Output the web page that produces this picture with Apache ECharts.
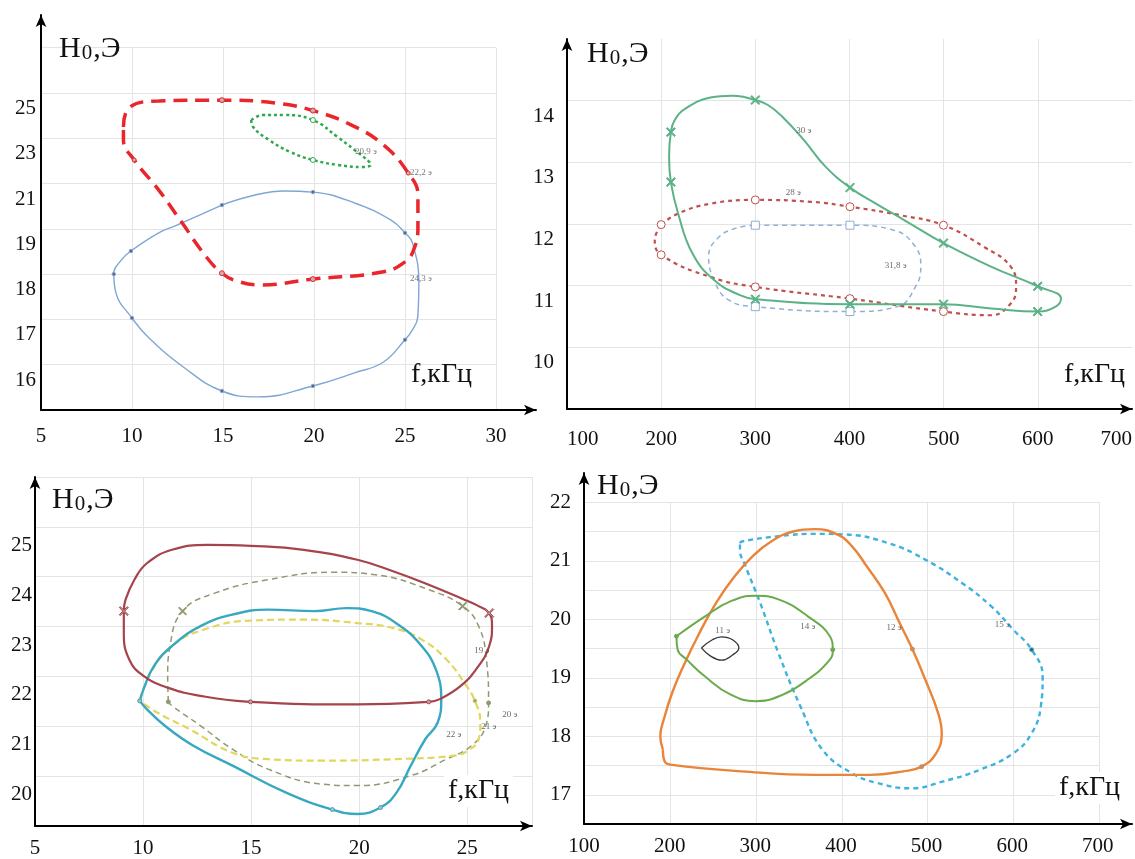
<!DOCTYPE html>
<html><head><meta charset="utf-8">
<script src="https://cdn.jsdelivr.net/npm/echarts@6.0.0/dist/echarts.min.js"></script>
<style>html,body{margin:0;padding:0;background:#fff}#c{width:1135px;height:859px}</style>
</head><body><div id="c"></div>
<script>
// ---------- Panel 1 (top-left), f in kHz, H0 in Oe (non-uniform labelled scale) ----------
const p1YTickLabels = [16, 17, 18, 19, 21, 23, 25];
const p1XTicks = [5, 10, 15, 20, 25, 30];
const p1Red = [[9.53,23.50],[9.82,24.33],[11.47,24.64],[14.94,24.68],[17.94,24.55],[19.94,24.22],[22.06,23.58],[23.82,22.70],[25.18,21.46],[25.71,20.49],[25.71,19.04],[25.47,18.53],[25.00,18.27],[23.82,18.05],[19.94,17.89],[17.06,17.76],[15.59,17.87],[14.94,18.02],[14.12,18.36],[12.65,19.38],[11.47,20.71],[10.12,22.04],[9.53,22.92],[9.53,23.50]];
const p1Green = [[16.55,23.80],[17.18,24.02],[18.36,24.02],[19.94,23.80],[21.30,23.05],[22.23,22.48],[23.06,21.94],[23.12,21.82],[22.65,21.73],[21.30,21.82],[19.94,22.04],[18.70,22.39],[17.53,22.92],[16.65,23.50],[16.55,23.80]];
const p1Blue = [[14.94,20.05],[16.76,20.49],[18.35,20.67],[19.94,20.62],[22.23,20.14],[24.23,19.38],[25.00,18.91],[25.41,18.69],[25.76,17.80],[25.70,17.05],[25.41,16.77],[25.00,16.55],[23.82,16.06],[22.23,15.82],[19.94,15.53],[16.94,15.29],[14.94,15.42],[12.82,15.95],[10.88,16.61],[10.00,17.03],[9.12,17.58],[9.00,18.00],[9.41,18.31],[9.94,18.51],[11.47,18.91],[12.47,19.16],[14.94,20.05]];
const p1Notes = [[22.86,22.40,'20,9 э'],[25.88,21.46,'22,2 э'],[25.88,17.91,'24,3 э']];

// ---------- Panel 2 (top-right) ----------
const p2XTicks = [100, 200, 300, 400, 500, 600, 700];
const p2YTicks = [10, 11, 12, 13, 14];
const p2Green = [[300,14.01],[275.3,14.08],[252.4,14.05],[225.6,13.87],[214.2,13.68],[210.3,13.49],[208.4,13.09],[210.3,12.68],[218.0,12.17],[233.3,11.52],[256.2,11.09],[282.9,10.85],[300.1,10.78],[400.5,10.70],[499.8,10.70],[550.2,10.63],[599.8,10.58],[618.9,10.66],[624.6,10.79],[599.8,10.99],[550.2,11.31],[499.8,11.69],[458.5,12.06],[428.0,12.33],[400.5,12.59],[374.5,12.93],[351.6,13.36],[328.7,13.74],[313.4,13.93],[300,14.01]];
const p2Red = [[200,11.99],[218,12.17],[252.4,12.33],[300,12.39],[359.3,12.36],[400.5,12.28],[454.7,12.14],[499.8,11.98],[542.6,11.63],[571.2,11.31],[576.9,10.98],[571.2,10.71],[550.2,10.52],[499.8,10.58],[400.5,10.79],[300,10.98],[252.4,11.14],[200,11.50],[193.2,11.74],[200,11.99]];
const p2Blue = [[300,11.98],[400.5,11.98],[447.1,11.90],[470,11.63],[475.7,11.31],[470,10.98],[450.9,10.66],[400.5,10.58],[300,10.66],[271.4,10.77],[256.2,11.09],[250.4,11.47],[260,11.77],[279,11.93],[300,11.98]];
const p2Notes = [[351.6,13.51,'30 э'],[340.2,12.51,'28 э'],[449,11.32,'31,8 э']];

// ---------- Panel 3 (bottom-left) ----------
const p3XTicks = [5, 10, 15, 20, 25];
const p3YTicks = [20, 21, 22, 23, 24, 25];
const p3Red = [[9.11,23.31],[9.19,23.54],[9.60,23.94],[10.18,24.27],[11.34,24.54],[12.99,24.64],[14.97,24.62],[17.44,24.54],[19.92,24.34],[21.57,24.11],[23.22,23.84],[24.87,23.54],[25.53,23.41],[26.02,23.27],[26.15,23.01],[26.02,22.61],[25.53,22.21],[24.70,21.81],[23.71,21.54],[23.22,21.49],[19.92,21.44],[14.97,21.49],[12.66,21.61],[11.17,21.77],[10.02,22.01],[9.36,22.34],[9.11,22.87],[9.11,23.31]];
const p3Olive = [[11.17,21.49],[11.14,22.01],[11.25,22.61],[11.83,23.31],[13.32,23.67],[15.79,23.94],[18.76,24.09],[20.74,24.04],[23.22,23.74],[24.79,23.41],[25.53,23.01],[25.89,22.34],[25.99,21.47],[25.86,21.01],[25.20,20.61],[24.04,20.34],[22.39,20.01],[19.92,19.81],[18.27,19.84],[15.79,20.14],[14.14,20.54],[12.66,21.01],[11.34,21.41],[11.17,21.49]];
const p3Yellow = [[9.85,21.51],[10.35,22.07],[11.34,22.61],[12.82,22.94],[14.97,23.12],[17.44,23.14],[19.92,23.07],[21.57,22.97],[22.89,22.74],[24.04,22.34],[24.87,21.87],[25.36,21.51],[25.61,21.07],[25.53,20.74],[25.03,20.51],[24.37,20.41],[21.57,20.34],[18.27,20.31],[15.79,20.34],[14.14,20.47],[12.16,20.94],[10.68,21.27],[9.85,21.51]];
const p3Cyan = [[9.85,21.51],[10.02,21.74],[10.51,22.21],[11.34,22.61],[12.66,23.01],[14.14,23.24],[15.79,23.34],[17.94,23.31],[19.42,23.37],[20.58,23.31],[21.90,23.01],[22.89,22.61],[23.55,22.14],[23.80,21.54],[23.63,21.07],[23.06,20.74],[22.39,20.21],[21.73,19.67],[20.99,19.37],[19.92,19.24],[18.76,19.33],[16.62,19.67],[14.14,20.21],[12.33,20.61],[11.01,21.01],[10.18,21.34],[9.85,21.51]];
const p3Notes = [[25.68,22.51,'19 э'],[26.97,21.24,'20 э'],[26.0,21.0,'21 э'],[24.38,20.84,'22 э']];

// ---------- Panel 4 (bottom-right) ----------
const p4XTicks = [100, 200, 300, 400, 500, 600, 700];
const p4YTicks = [17, 18, 19, 20, 21, 22];
const p4Orange = [[191.8,17.77],[193.9,17.57],[202.5,17.51],[283.6,17.40],[369.0,17.34],[433.0,17.34],[471.5,17.40],[492.8,17.48],[509.9,17.71],[516.3,18.05],[512.0,18.40],[497.1,18.97],[482.1,19.49],[467.2,19.94],[450.1,20.45],[428.8,20.91],[411.7,21.25],[394.6,21.45],[369.0,21.54],[343.4,21.50],[317.8,21.33],[296.4,21.08],[275.1,20.73],[253.7,20.28],[232.4,19.71],[215.3,19.19],[202.5,18.74],[193.9,18.34],[188.8,18.00],[191.8,17.77]];
const p4Blue = [[281.5,21.30],[283.6,21.33],[326.3,21.42],[369.0,21.46],[403.2,21.45],[454.4,21.30],[497.1,21.02],[539.8,20.62],[574.0,20.22],[599.6,19.82],[620.9,19.48],[633.7,19.02],[631.6,18.51],[620.9,18.05],[599.6,17.71],[561.1,17.43],[518.4,17.23],[480.0,17.11],[441.6,17.20],[411.7,17.37],[377.5,17.77],[351.9,18.51],[326.3,19.42],[305.0,20.28],[287.9,20.91],[281.5,21.19],[281.5,21.30]];
const p4Green = [[207.6,19.71],[240.9,20.05],[270.8,20.31],[299.4,20.40],[326.3,20.34],[360.5,20.05],[386.1,19.71],[389.5,19.48],[386.1,19.31],[360.5,18.97],[326.3,18.68],[299.4,18.60],[270.8,18.71],[240.9,19.02],[219.6,19.31],[209.0,19.48],[207.6,19.71]];
const p4Black = [[236.6,19.51],[249.4,19.65],[260.1,19.70],[272.9,19.65],[280.2,19.51],[272.9,19.39],[260.1,19.30],[247.3,19.37],[236.6,19.51]];
const p4Notes = [[261.4,19.81,'11 э'],[360.5,19.88,'14 э'],[460.8,19.85,'12 э'],[586.8,19.91,'15 э']];

// ---------- helpers ----------
const FONT = 'Liberation Serif';
const GRIDC = '#e4e4e4';
const SYM = { x: 'path://M0,1L1,0L5,4L9,0L10,1L6,5L10,9L9,10L5,6L1,10L0,9L4,5Z', o: 'circle', s: 'rect' };

// panel-1 axis is evenly spaced per labelled tick, not per unit
function p1ToT(h) {
  const tk = p1YTickLabels, n = tk.length;
  if (h <= tk[0]) return 1 + (h - tk[0]) / (tk[1] - tk[0]);
  for (let i = 0; i < n - 1; i++) {
    if (h <= tk[i + 1]) return 1 + i + (h - tk[i]) / (tk[i + 1] - tk[i]);
  }
  return n + (h - tk[n - 1]) / (tk[n - 1] - tk[n - 2]);
}
const ident = v => v;

function loop(g, pts, color, width, dash, marks, fill, yMap, z) {
  yMap = yMap || ident;
  const mk = {};
  (marks || []).forEach(m => { mk[m[0]] = m; });
  return {
    type: 'line', xAxisIndex: g, yAxisIndex: g, z: z || 2,
    data: pts.map(p => [p[0], yMap(p[1])]),
    smooth: 0.45, showSymbol: true, showAllSymbol: true, clip: false,
    symbol: (v, p) => mk[p.dataIndex] ? SYM[mk[p.dataIndex][1]] : 'none',
    symbolSize: (v, p) => mk[p.dataIndex] ? mk[p.dataIndex][2] : 0,
    lineStyle: { color: color, width: width, type: dash },
    itemStyle: { color: fill || color, borderColor: color, borderWidth: 1 },
    animation: false, silent: true
  };
}
function notes(g, arr, yMap, color) {
  yMap = yMap || ident;
  return {
    type: 'scatter', xAxisIndex: g, yAxisIndex: g, z: 6,
    data: arr.map(n => [n[0], yMap(n[1]), n[2]]),
    symbolSize: 1, itemStyle: { color: 'rgba(0,0,0,0)' },
    label: { show: true, position: 'inside', formatter: p => p.data[2], fontSize: 9, fontFamily: FONT, color: color || '#444' },
    animation: false, silent: true
  };
}
// visible axis: black line with arrow, labels
function axis(o) {
  return {
    type: 'value', gridIndex: o.g, min: o.min, max: o.max, interval: o.interval,
    axisLine: { show: true, onZero: false, lineStyle: { color: '#000', width: 2 }, symbol: ['none', 'arrow'], symbolSize: [8, 12] },
    axisTick: { show: false },
    splitLine: { show: o.split !== false, showMinLine: true, showMaxLine: o.maxLine !== false, lineStyle: { color: GRIDC, width: 1 } },
    axisLabel: Object.assign({ fontFamily: FONT, fontSize: 21, color: '#111', margin: o.margin, formatter: o.fmt }, o.label || {})
  };
}
// inner axis: only the light grid, bounded to the gridded area
function gridAxis(g, min, max, interval) {
  return {
    type: 'value', gridIndex: g, min: min, max: max, interval: interval,
    axisLine: { show: false }, axisTick: { show: false }, axisLabel: { show: false },
    splitLine: { show: true, showMinLine: true, showMaxLine: true, lineStyle: { color: GRIDC, width: 1 } }
  };
}
const inList = list => v => (list.some(t => Math.abs(t - v) < 1e-6) ? String(Math.round(v)) : '');

function titleH(left, top) {
  return {
    left: left, top: top, padding: 0, text: '{a|H}{b|0}{a|,Э}',
    textStyle: { fontWeight: 'normal', rich: {
      a: { fontFamily: FONT, fontSize: 30, fontWeight: 'normal', color: '#111', lineHeight: 34, verticalAlign: 'bottom' },
      b: { fontFamily: FONT, fontSize: 21, fontWeight: 'normal', color: '#111', lineHeight: 34, verticalAlign: 'bottom', padding: [0, 1, 0, 1] }
    } }
  };
}
function titleF(left, top, bg) {
  return {
    left: left, top: top, padding: bg ? [2, 4, 2, 4] : 0, backgroundColor: bg ? '#fff' : 'transparent',
    text: 'f,кГц', textStyle: { fontFamily: FONT, fontSize: 28, fontWeight: 'normal', color: '#111' }
  };
}

const option = {
  backgroundColor: '#fff',
  animation: false,
  textStyle: { fontFamily: FONT },
  title: [
    titleH(59, 30), titleF(411, 361, false),
    titleH(587, 35), titleF(1060, 359, true),
    titleH(52, 481), titleF(444, 775, true),
    titleH(597, 467), titleF(1055, 772, true)
  ],
  grid: [
    { left: 41, top: 15, width: 495, height: 395 },           // 0 panel 1 axes
    { left: 567, top: 39, width: 573, height: 370 },          // 1 panel 2
    { left: 35, top: 477, width: 497, height: 350 },          // 2 panel 3
    { left: 584, top: 473, width: 550, height: 351 },         // 3 panel 4 axes
    { left: 41, top: 47.6, width: 455, height: 362.4 },       // 4 panel 1 gridded area
    { left: 584, top: 502.25, width: 515.6, height: 321.75 }  // 5 panel 4 gridded area
  ],
  xAxis: [
    axis({ g: 0, min: 5, max: 32.2, interval: 5, split: false, margin: 16, fmt: inList(p1XTicks) }),
    axis({ g: 1, min: 100, max: 700, interval: 100, maxLine: false, margin: 20, fmt: inList(p2XTicks), label: { alignMinLabel: 'left', alignMaxLabel: 'right' } }),
    axis({ g: 2, min: 5, max: 28, interval: 5, margin: 12, fmt: inList(p3XTicks) }),
    axis({ g: 3, min: 100, max: 740, interval: 100, split: false, margin: 12, fmt: inList(p4XTicks) }),
    gridAxis(4, 5, 30, 5),
    gridAxis(5, 100, 700, 100)
  ],
  yAxis: [
    axis({ g: 0, min: 0, max: 8.72, interval: 1, split: false, margin: 5,
      fmt: v => { const i = Math.round(v); return (Math.abs(v - i) < 1e-6 && i >= 1 && i <= p1YTickLabels.length) ? String(p1YTickLabels[i - 1]) : ''; },
      label: { verticalAlign: 'top', padding: [5, 0, 0, 0] } }),
    axis({ g: 1, min: 9, max: 15, interval: 1, maxLine: false, margin: 13, fmt: inList(p2YTicks), label: { verticalAlign: 'top', padding: [5, 0, 0, 0] } }),
    axis({ g: 2, min: 19, max: 26, interval: 1, margin: 3, fmt: inList(p3YTicks), label: { verticalAlign: 'top', padding: [8, 0, 0, 0] } }),
    axis({ g: 3, min: 16.5, max: 22.5, interval: 0.5, split: false, margin: 13, fmt: inList(p4YTicks) }),
    gridAxis(4, 0, 8, 1),
    gridAxis(5, 16.5, 22, 0.5)
  ],
  series: [
    // panel 1 (drawn in the bounded grid, index 4)
    loop(4, p1Blue, '#7ea7d4', 1.4, 'solid', [[0,'o',3.5],[3,'o',3.5],[6,'o',3.5],[11,'o',3.5],[14,'o',3.5],[16,'o',3.5],[19,'o',3.5],[21,'o',3.5],[23,'o',3.5]], '#667', p1ToT, 2),
    loop(4, p1Red, '#e8262b', 3.5, [14, 8], [[3,'o',5],[5,'o',5],[8,'o',4],[14,'o',5],[17,'o',5],[21,'o',4]], '#c9b0b0', p1ToT, 3),
    loop(4, p1Green, '#2ea84c', 2.5, [3, 3], [[3,'o',5],[10,'o',5]], '#fff', p1ToT, 4),
    notes(4, p1Notes, p1ToT, '#555'),
    // panel 2
    loop(1, p2Blue, '#8fb1d2', 1.5, [5, 4], [[0,'s',8],[1,'s',8],[7,'s',8],[8,'s',8]], '#fff', null, 2),
    loop(1, p2Red, '#c0504d', 2.2, [4, 4], [[0,'o',8],[3,'o',8],[5,'o',8],[7,'o',8],[13,'o',8],[14,'o',8],[15,'o',8],[17,'o',8]], '#fff', null, 3),
    loop(1, p2Green, '#5cb287', 2, 'solid', [[0,'x',9],[5,'x',9],[7,'x',9],[12,'x',9],[13,'x',9],[14,'x',9],[16,'x',9],[19,'x',9],[21,'x',9],[24,'x',9]], '#5cb287', null, 4),
    notes(1, p2Notes, null, '#444'),
    // panel 3
    loop(2, p3Olive, '#8e9a70', 1.5, [6, 4], [[3,'x',8],[9,'x',8],[0,'o',4],[12,'o',4]], '#8e9a70', null, 2),
    loop(2, p3Yellow, '#e3d65c', 2.2, [7, 4], [[0,'o',4],[11,'o',4]], '#999', null, 3),
    loop(2, p3Cyan, '#38a7c0', 2.4, 'solid', [[0,'o',4],[18,'o',4],[20,'o',4]], '#bbb', null, 4),
    loop(2, p3Red, '#a5444b', 2.2, 'solid', [[0,'x',9],[13,'x',9],[19,'o',4],[21,'o',4]], '#c9a0a4', null, 5),
    notes(2, p3Notes, null, '#444'),
    // panel 4 (drawn in the bounded grid, index 5)
    loop(5, p4Blue, '#3db3de', 2.4, [5, 4], [[10,'o',4]], '#555', null, 2),
    loop(5, p4Orange, '#ea8439', 2.4, 'solid', [[7,'o',4],[12,'o',4]], '#999', null, 3),
    loop(5, p4Green, '#6aab4e', 2, 'solid', [[0,'o',4],[7,'o',4]], '#6aab4e', null, 4),
    loop(5, p4Black, '#333', 1.3, 'solid', [], '#333', null, 5),
    notes(5, p4Notes, null, '#444')
  ]
};
const chart = echarts.init(document.getElementById('c'), null, { renderer: 'canvas' });
chart.setOption(option);
</script>
</body></html>
